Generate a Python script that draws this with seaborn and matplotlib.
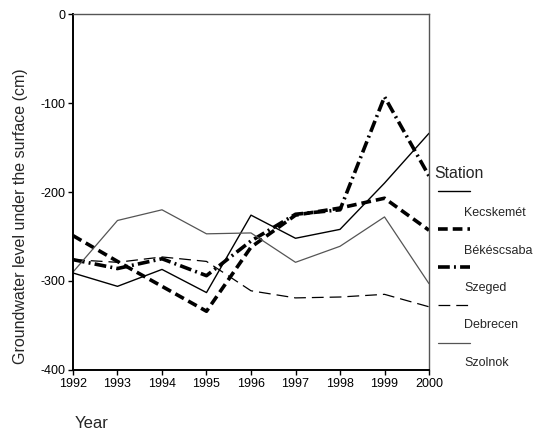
import pandas as pd
import seaborn as sns
import matplotlib.pyplot as plt
from matplotlib.lines import Line2D

# ==========================================
# DATA
# ==========================================
YEARS = [1992, 1993, 1994, 1995, 1996, 1997, 1998, 1999, 2000]

KECSKEMET = [-291, -306, -287, -313, -226, -252, -242, -190, -134]
BEKESCSABA = [-249, -278, -306, -334, -262, -226, -218, -207, -243]
SZEGED = [-276, -286, -275, -294, -255, -225, -220, -93, -182]
DEBRECEN = [-276, -279, -273, -278, -311, -319, -318, -315, -329]
SZOLNOK = [-290, -232, -220, -247, -246, -279, -261, -228, -303]

STATIONS = ["Kecskemét", "Békéscsaba", "Szeged", "Debrecen", "Szolnok"]
Y_TICKS = [0, -100, -200, -300, -400]

# line styles per station: (color, width, dash pattern in points)
STYLES = {
    "Kecskemét": ("black", 1.0, None),
    "Békéscsaba": ("black", 2.6, (7.0, 3.6)),
    "Szeged": ("black", 2.6, (8.5, 3.0, 1.4, 3.0)),
    "Debrecen": ("black", 0.9, (8.5, 4.3)),
    "Szolnok": ("#555555", 0.9, None),
}

# ==========================================


def build_frame():
    series = [KECSKEMET, BEKESCSABA, SZEGED, DEBRECEN, SZOLNOK]
    rows = []
    for name, vals in zip(STATIONS, series):
        for yr, v in zip(YEARS, vals):
            rows.append({"Year": yr, "Level": v, "Station": name})
    return pd.DataFrame(rows)


def main():
    sns.set_theme(style="white")
    plt.rcParams["font.family"] = ["Liberation Sans", "DejaVu Sans"]
    plt.rcParams["axes.unicode_minus"] = False

    df = build_frame()

    fig = plt.figure(figsize=(5.35, 4.34), dpi=100)
    ax = fig.add_axes([0.1364, 0.1475, 0.8019 - 0.1364, 0.9677 - 0.1475])

    for name in STATIONS:
        color, lw, dash = STYLES[name]
        sub = df[df["Station"] == name]
        sns.lineplot(data=sub, x="Year", y="Level", color=color,
                     linewidth=lw, ax=ax, legend=False)
        line = ax.lines[-1]
        if dash is not None:
            line.set_linestyle((0, tuple(d / lw for d in dash)))
        line.set_dash_capstyle("butt")

    ax.set_xlim(1992, 2000)
    ax.set_ylim(-400, 0)
    ax.set_xticks(YEARS)
    ax.set_xticklabels([str(y) for y in YEARS])
    ax.set_yticks(Y_TICKS)
    ax.set_yticklabels([str(t) for t in Y_TICKS])
    ax.tick_params(axis="both", direction="out", length=3.5, width=1,
                   labelsize=9, colors="black", pad=2, bottom=True, left=True)

    for side in ["left", "bottom"]:
        ax.spines[side].set_color("black")
        ax.spines[side].set_linewidth(1.4)
    for side in ["top", "right"]:
        ax.spines[side].set_color("#555555")
        ax.spines[side].set_linewidth(1.0)

    ax.set_xlabel("")
    ax.set_ylabel("")
    fig.text(21 / 535, 1 - 216 / 434,
             "Groundwater level under the surface (cm)", fontsize=11.5,
             rotation=90, va="center", ha="center")
    fig.text(75 / 535, 1 - 424 / 434, "Year", fontsize=12, va="center",
             ha="left")

    # legend: sample line above each label
    fig.text(434 / 535, 1 - 173 / 434, "Station", fontsize=11.4,
             va="center", ha="left")
    for i, name in enumerate(STATIONS):
        color, lw, dash = STYLES[name]
        ys = 1 - (190.7 + i * 38) / 434
        h = Line2D([438 / 535, 470 / 535], [ys, ys], color=color, lw=lw,
                   transform=fig.transFigure)
        if dash is not None:
            h.set_linestyle((0, tuple(d / lw for d in dash)))
        fig.add_artist(h)
        fig.text(464 / 535, 1 - (213 + i * 37.5) / 434, name, fontsize=9,
                 va="center", ha="left")

    fig.savefig("out.png", dpi=100)


if __name__ == "__main__":
    main()
